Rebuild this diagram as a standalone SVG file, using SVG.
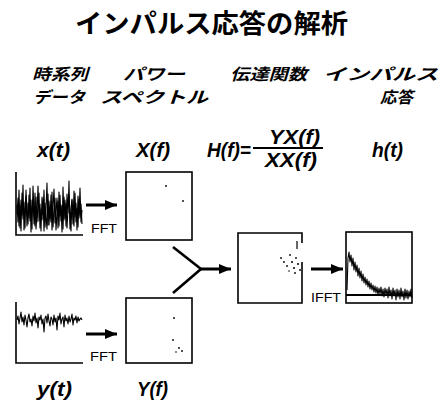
<svg xmlns="http://www.w3.org/2000/svg" width="441" height="403" viewBox="0 0 441 403">
<defs>
<style>
.jp{font-family:"Noto Sans CJK JP","Noto Sans",sans-serif;font-weight:bold;fill:#000}
.hd{font-size:16px;font-style:italic}
.m{font-family:"Liberation Sans",Arial,sans-serif;font-style:italic;font-weight:bold;font-size:21px;fill:#000}
.f{font-family:"Liberation Sans",Arial,sans-serif;font-size:13px;fill:#000}
.box{fill:#fff;stroke:#000;stroke-width:1.6}
.ax{fill:none;stroke:#000;stroke-width:1.6}
.sig{fill:none;stroke:#000;stroke-width:1.1;stroke-linejoin:round}
.arr{stroke:#000;stroke-width:3;marker-end:url(#ah)}
.ln{stroke:#000;stroke-width:2.6;fill:none}
</style>
<marker id="ah" markerUnits="userSpaceOnUse" markerWidth="12" markerHeight="10" refX="12" refY="5" orient="auto">
<path d="M0,0 L12,5 L0,10 z" fill="#000"/>
</marker>
</defs>
<rect width="441" height="403" fill="#fff"/>

<g id="title">
<text class="jp" x="75" y="33" font-size="26" textLength="273" lengthAdjust="spacingAndGlyphs">インパルス応答の解析</text>
</g>

<g id="headers">
<text class="jp hd" x="32" y="80" textLength="56" lengthAdjust="spacingAndGlyphs">時系列</text>
<text class="jp hd" x="33" y="103" textLength="52" lengthAdjust="spacingAndGlyphs">データ</text>
<text class="jp hd" x="123" y="80" textLength="62" lengthAdjust="spacingAndGlyphs">パワー</text>
<text class="jp hd" x="100" y="103" textLength="108" lengthAdjust="spacingAndGlyphs">スペクトル</text>
<text class="jp hd" x="230" y="80" textLength="77" lengthAdjust="spacingAndGlyphs">伝達関数</text>
<text class="jp hd" x="323" y="80" textLength="115" lengthAdjust="spacingAndGlyphs">インパルス</text>
<text class="jp hd" x="380" y="103" textLength="33" lengthAdjust="spacingAndGlyphs">応答</text>
</g>

<g id="labels">
<text class="m" x="37" y="157" textLength="33" lengthAdjust="spacingAndGlyphs">x(t)</text>
<text class="m" x="136" y="157" textLength="34" lengthAdjust="spacingAndGlyphs">X(f)</text>
<text class="m" x="207" y="157" textLength="44" lengthAdjust="spacingAndGlyphs">H(f)=</text>
<text class="m" x="269" y="144" textLength="51" lengthAdjust="spacingAndGlyphs">YX(f)</text>
<line x1="253" y1="148" x2="323" y2="148" stroke="#000" stroke-width="2.2"/>
<text class="m" x="265" y="167" textLength="52" lengthAdjust="spacingAndGlyphs">XX(f)</text>
<text class="m" x="372" y="157" textLength="31" lengthAdjust="spacingAndGlyphs">h(t)</text>
<text class="m" x="37" y="396" textLength="35" lengthAdjust="spacingAndGlyphs">y(t)</text>
<text class="m" x="137" y="396" textLength="31" lengthAdjust="spacingAndGlyphs">Y(f)</text>
</g>

<g id="xt-plot">
<path class="ax" d="M16,172 V235 H83"/>
<polyline class="sig" points="17,205 18,222 19,190 20,228 21,200 22,215 23,185 24,230 25,210 26,196 27,226 28,203 29,218 30,188 31,232 32,207 33,199 34,224 35,193 36,229 37,212 38,186 39,221 40,204 41,231 42,197 43,214 44,190 45,227 46,209 47,183 48,225 49,201 50,219 51,195 52,230 53,206 54,189 55,223 56,211 57,198 58,228 59,192 60,216 61,205 62,232 63,187 64,220 65,200 66,226 67,194 68,213 69,181 70,229 71,208 72,199 73,224 74,191 75,217 76,203 77,230 78,196 79,215 80,188 81,222 82,210"/>
<polyline class="sig" points="17,214 18,198 19,226 20,205 21,231 22,193 23,219 24,202 25,228 26,190 27,212 28,224 29,195 30,221 31,200 32,229 33,186 34,211 35,226 36,197 37,222 38,206 39,193 40,228 41,209 42,220 43,199 44,231 45,203 46,217 47,229 48,194 49,225 50,207 51,222 52,192 53,227 54,211 55,198 56,230 57,214 58,201 59,226 60,195 61,221 62,206 63,229 64,197 65,218 66,203 67,228 68,209 69,195 70,220 71,231 72,200 73,215 74,226 75,193 76,222 77,208 78,227 79,199 80,218 81,204 82,224"/>
</g>

<g id="yt-plot">
<path class="ax" d="M16,302 V363 H83"/>
<polyline class="sig" points="17,320 18,316 19,324 20,318 21,312 22,322 23,317 24,325 25,315 26,320 27,327 28,318 29,314 30,322 31,319 32,326 33,316 34,321 35,313 36,323 37,318 38,328 39,317 40,320 41,315 42,324 43,319 44,332 45,318 46,316 47,323 48,314 49,321 50,326 51,317 52,319 53,325 54,315 55,322 56,318 57,330 58,316 59,320 60,313 61,324 62,319 63,317 64,327 65,315 66,321 67,318 68,324 69,316 70,322 71,319 72,314 73,325 74,318 75,320 76,316 77,323 78,317 79,321 80,319 81,318 82,320"/>
</g>

<g id="Xf-box">
<rect class="box" x="126" y="172" width="66" height="68"/>
<circle cx="166" cy="186" r="0.9"/>
<circle cx="183" cy="201" r="0.9"/>
</g>

<g id="Yf-box">
<rect class="box" x="126" y="298" width="66" height="65"/>
<circle cx="174" cy="318" r="0.9"/>
<circle cx="173" cy="340" r="0.9"/>
<circle cx="179" cy="348" r="0.9"/>
<circle cx="182" cy="351" r="0.9"/>
<circle cx="176" cy="352" r="0.8"/>
</g>

<g id="Hf-box">
<path class="ax" d="M302,243 V233 H238 V303 H302 V262"/>
<line x1="297" y1="241" x2="297" y2="249" stroke="#000" stroke-width="1.2"/>
<circle cx="281" cy="258" r="0.9"/>
<circle cx="284" cy="262" r="0.9"/>
<circle cx="287" cy="266" r="0.9"/>
<circle cx="290" cy="255" r="0.9"/>
<circle cx="292" cy="262" r="1"/>
<circle cx="294" cy="268" r="1"/>
<circle cx="296" cy="258" r="0.9"/>
<circle cx="298" cy="264" r="1"/>
<circle cx="300" cy="270" r="0.9"/>
<circle cx="295" cy="273" r="0.9"/>
<circle cx="289" cy="271" r="0.8"/>
</g>

<g id="ht-box">
<rect class="box" x="346" y="232" width="66" height="71"/>
<line x1="346" y1="295" x2="412" y2="295" stroke="#000" stroke-width="1.8"/>
<polyline class="sig" stroke-width="1.4" points="347,290 348,258 349,252 350,262 351,255 352,266 353,258 354,270 355,262 356,272 357,265 358,276 359,268 360,278 361,271 362,281 363,274 364,283 365,277 366,285 367,279 368,287 369,281 370,289 371,283 372,290 373,285 374,292 375,286 376,293 377,287 378,295 379,288 380,294 381,287 382,296 383,289 384,297 385,288 386,295 387,289 388,298 389,287 390,296 391,290 392,299 393,288 394,296 395,290 396,300 397,289 398,297 399,290 400,299 401,288 402,297 403,291 404,300 405,289 406,298 407,290 408,299 409,291 410,297 411,289 412,298"/>
</g>

<g id="connectors">
<line class="arr" x1="86" y1="205" x2="117" y2="205"/>
<line class="arr" x1="86" y1="334" x2="117" y2="334"/>
<line class="ln" x1="173" y1="247" x2="201" y2="269"/>
<line class="ln" x1="173" y1="293" x2="201" y2="269"/>
<line class="arr" x1="199" y1="269" x2="231" y2="269"/>
<line class="arr" x1="311" y1="269" x2="343" y2="269"/>
</g>

<g id="fft-labels">
<text class="f" x="91" y="233" textLength="26" lengthAdjust="spacingAndGlyphs">FFT</text>
<text class="f" x="90" y="361" textLength="27" lengthAdjust="spacingAndGlyphs">FFT</text>
<text class="f" x="311" y="302" textLength="30" lengthAdjust="spacingAndGlyphs">IFFT</text>
</g>
</svg>
